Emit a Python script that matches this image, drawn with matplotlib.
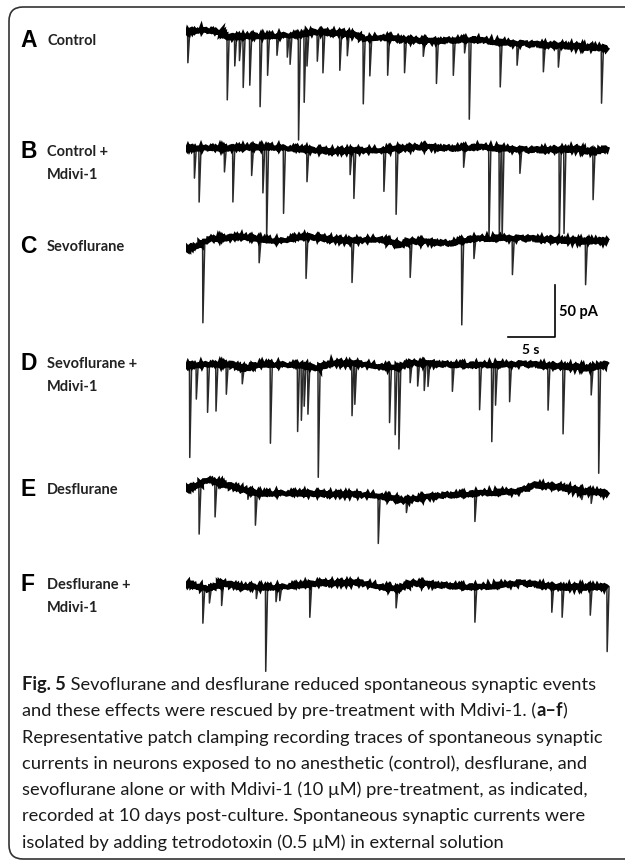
import numpy as np
import matplotlib.pyplot as plt
from matplotlib.patches import FancyBboxPatch

W, H = 625, 862
PX_PER_S = 9.38      # horizontal scale of the traces
PX_PER_PA = 1.04     # vertical scale of the traces (50 pA bar = 52 px)
TRACE_X0 = 186

panel_letters = ["A", "B", "C", "D", "E", "F"]
panel_names = [["Control"], ["Control +", "Mdivi-1"], ["Sevoflurane"],
               ["Sevoflurane +", "Mdivi-1"], ["Desflurane"], ["Desflurane +", "Mdivi-1"]]

# baseline drift of each trace: time (s) and current (pA, relative to the row)
a_base_t = [0, 1.5, 3.6, 4.5, 7.9, 12.2, 13.2, 16.4, 18.0, 19.1, 20.7, 22.8, 26.0, 30.3, 33.5, 36.7, 39.9, 43.1, 45.0]
a_base_pa = [5, 7, 5, 0, 1, 2, 5, 4, 2, -2, 0, -2, -4, -2, -5, -7, -8, -10, -11]
b_base_t = [0, 4.7, 9.0, 15.4, 20.7, 24.9, 28.1, 31.3, 36.7, 41.5, 43.6, 45.0]
b_base_pa = [1, 1, 2, -2, -1, 2, 1, 2, -1, 0, -3, 1]
c_base_t = [0, 1.5, 2.6, 5.8, 10.0, 12.2, 13.2, 17.5, 20.7, 22.8, 23.9, 28.1, 30.3, 33.5, 37.7, 42.0, 45.0]
c_base_pa = [-8, -3, 2, 4, 0, 4, 4, 0, 2, -4, 0, -2, 2, 3, 2, 0, 0]
d_base_t = [0, 4.7, 6.3, 7.9, 12.2, 14.1, 15.4, 18.6, 22.3, 23.9, 27.1, 31.3, 35.6, 39.9, 43.1, 45.0]
d_base_pa = [0, 1, -4, 1, 0, -3, 2, 1, -3, 2, 1, 0, 1, -1, -3, 1]
e_base_t = [0, 1.5, 2.3, 3.6, 5.8, 7.5, 12.2, 16.4, 20.3, 23.2, 27.1, 31.3, 35.6, 37.3, 39.9, 42.0, 45.0]
e_base_pa = [0, 5, 9, 6, 0, -4, -4, -5, -6, -11, -6, -4, -2, 4, 2, -2, -4]
f_base_t = [0, 2.3, 4.0, 5.8, 7.5, 10.0, 14.3, 18.6, 22.4, 24.1, 27.1, 31.3, 35.6, 39.9, 45.0]
f_base_pa = [2, -4, 2, -2, -2, -2, 2, 2, -4, 2, 0, -2, 2, -2, -2]

# synaptic events: onset time (s) and amplitude (pA, inward)
a_ev_t = [0.2, 4.4, 5.2, 5.7, 6.1, 6.8, 7.9, 8.7, 9.7, 10.8, 11.1, 12.0, 12.6, 12.9, 14.0, 14.6,
          16.4, 17.2, 18.9, 19.6, 21.5, 23.3, 25.3, 26.7, 28.5, 29.7, 30.2, 33.5, 35.3, 38.1, 39.7, 44.3]
a_ev_pa = [30, 61, 28, 23, 49, 47, 68, 38, 19, 21, 28, 101, 66, 32, 28, 39,
           36, 21, 63, 36, 36, 32, 15, 41, 34, 13, 77, 43, 21, 26, 21, 53]
b_ev_t = [0.9, 1.4, 4.1, 5.0, 7.0, 8.2, 8.6, 10.4, 12.9, 17.5, 17.9, 21.1, 22.4, 29.6, 32.3, 33.4,
          33.7, 35.6, 39.8, 40.3, 43.4]
b_ev_pa = [29, 52, 23, 52, 27, 44, 88, 63, 31, 23, 46, 40, 63, 19, 88, 85,
           88, 23, 88, 81, 46]
c_ev_t = [1.8, 7.8, 12.8, 17.7, 23.9, 29.4, 30.7, 34.8, 42.6]
c_ev_pa = [77, 23, 40, 40, 35, 81, 19, 35, 42]
d_ev_t = [0.4, 1.1, 2.3, 3.2, 4.3, 6.0, 9.0, 11.9, 12.3, 12.6, 13.0, 14.1, 17.7, 18.0, 21.7, 22.3,
          22.7, 23.9, 24.7, 25.4, 25.8, 28.4, 31.3, 32.6, 33.0, 34.5, 38.6, 40.2, 43.2, 44.0]
d_ev_pa = [89, 33, 46, 45, 29, 15, 76, 64, 53, 39, 46, 105, 50, 39, 53, 64,
           79, 19, 22, 26, 22, 26, 43, 74, 39, 36, 43, 65, 26, 103]
e_ev_t = [1.4, 3.1, 6.6, 7.4, 20.5, 23.5, 30.8, 42.2, 43.2]
e_ev_pa = [48, 34, 8, 31, 46, 12, 27, 8, 11]
f_ev_t = [1.8, 2.5, 3.8, 7.5, 8.5, 9.6, 10.0, 13.2, 22.4, 30.8, 39.0, 40.1, 43.1, 44.9]
f_ev_pa = [34, 14, 21, 11, 81, 14, 13, 32, 18, 34, 25, 29, 27, 62]

traces = [(a_base_t, a_base_pa, a_ev_t, a_ev_pa), (b_base_t, b_base_pa, b_ev_t, b_ev_pa),
          (c_base_t, c_base_pa, c_ev_t, c_ev_pa), (d_base_t, d_base_pa, d_ev_t, d_ev_pa),
          (e_base_t, e_base_pa, e_ev_t, e_ev_pa), (f_base_t, f_base_pa, f_ev_t, f_ev_pa)]

# row layout in pixels
trace_y = [38, 150, 242, 366, 490, 586]
label_base = [46, 157, 252, 369, 495, 590]

caption = [
    [("Fig. 5", "bold"), (" Sevoflurane and desflurane reduced spontaneous synaptic events", "normal")],
    [("and these effects were rescued by pre-treatment with Mdivi-1. (", "normal"), ("a\u2013f", "bold"), (")", "normal")],
    [("Representative patch clamping recording traces of spontaneous synaptic", "normal")],
    [("currents in neurons exposed to no anesthetic (control), desflurane, and", "normal")],
    [("sevoflurane alone or with Mdivi-1 (10 \u00b5M) pre-treatment, as indicated,", "normal")],
    [("recorded at 10 days post-culture. Spontaneous synaptic currents were", "normal")],
    [("isolated by adding tetrodotoxin (0.5 \u00b5M) in external solution", "normal")],
]

fig = plt.figure(figsize=(W / 100, H / 100), dpi=100)

# background axes in pixel units for frame and text
bg = fig.add_axes([0, 0, 1, 1])
bg.set_xlim(0, W)
bg.set_ylim(H, 0)
bg.axis("off")

frame = FancyBboxPatch((9, 8), 700, 852, boxstyle="round,pad=0,rounding_size=14",
                       facecolor="white", edgecolor="#333333", lw=1.2)
bg.add_patch(frame)

label_font = ["Lato", "DejaVu Sans"]
for i in range(6):
    bg.text(20, label_base[i] + 1, panel_letters[i], fontsize=16.5, fontweight="bold",
            family=["Liberation Sans", "DejaVu Sans"], va="baseline", ha="left")
    for k, line in enumerate(panel_names[i]):
        bg.text(47, label_base[i] + 23 * k - 1, line, fontsize=10.5, fontweight="bold",
                family=label_font, va="baseline", ha="left", color="#222222")

# caption, mixing bold and regular pieces on one line
renderer = fig.canvas.get_renderer()
for j, pieces in enumerate(caption):
    x = 22
    y = 690 + 26.3 * j
    for txt, wt in pieces:
        t = bg.text(x, y, txt, fontsize=13.15, fontweight=wt, family=label_font,
                    va="baseline", ha="left", color="#1a1a1a")
        x += t.get_window_extent(renderer).width

# trace axes: seconds / pA
tr = fig.add_axes([TRACE_X0 / W, 0, (W - TRACE_X0) / W, 1])
tr.set_xlim(0, (W - TRACE_X0) / PX_PER_S)
tr.set_ylim(-H / PX_PER_PA, 0)
tr.axis("off")

for i, (bt, bp, et, ea) in enumerate(traces):
    off = -trace_y[i] / PX_PER_PA
    bt = np.array(bt)
    bp = np.array(bp) + off
    for t0, amp in zip(et, ea):
        b0 = np.interp(t0, bt, bp)
        tr.plot([t0 - 0.03, t0, t0 + 0.2], [b0, b0 - amp, b0], color="#2a2a2a", lw=1.1)
    line, = tr.plot(bt, bp, color="black", lw=3.4, solid_joinstyle="miter", solid_capstyle="butt")
    line.set_sketch_params(scale=1.4, length=1.2, randomness=3)

# scale bar: 50 pA, 5 s
bar_t, bar_pa = 39.3, -338 / PX_PER_PA
tr.plot([bar_t - 5, bar_t, bar_t], [bar_pa, bar_pa, bar_pa + 50], color="black", lw=1.2)
tr.text(bar_t + 0.5, bar_pa + 25, "50 pA", fontsize=10.5, fontweight="bold",
        family=label_font, va="center", ha="left")
tr.text(bar_t - 2.5, bar_pa - 12, "5 s", fontsize=10, fontweight="bold",
        family=label_font, va="center", ha="center")

fig.savefig("out.png", dpi=100)
